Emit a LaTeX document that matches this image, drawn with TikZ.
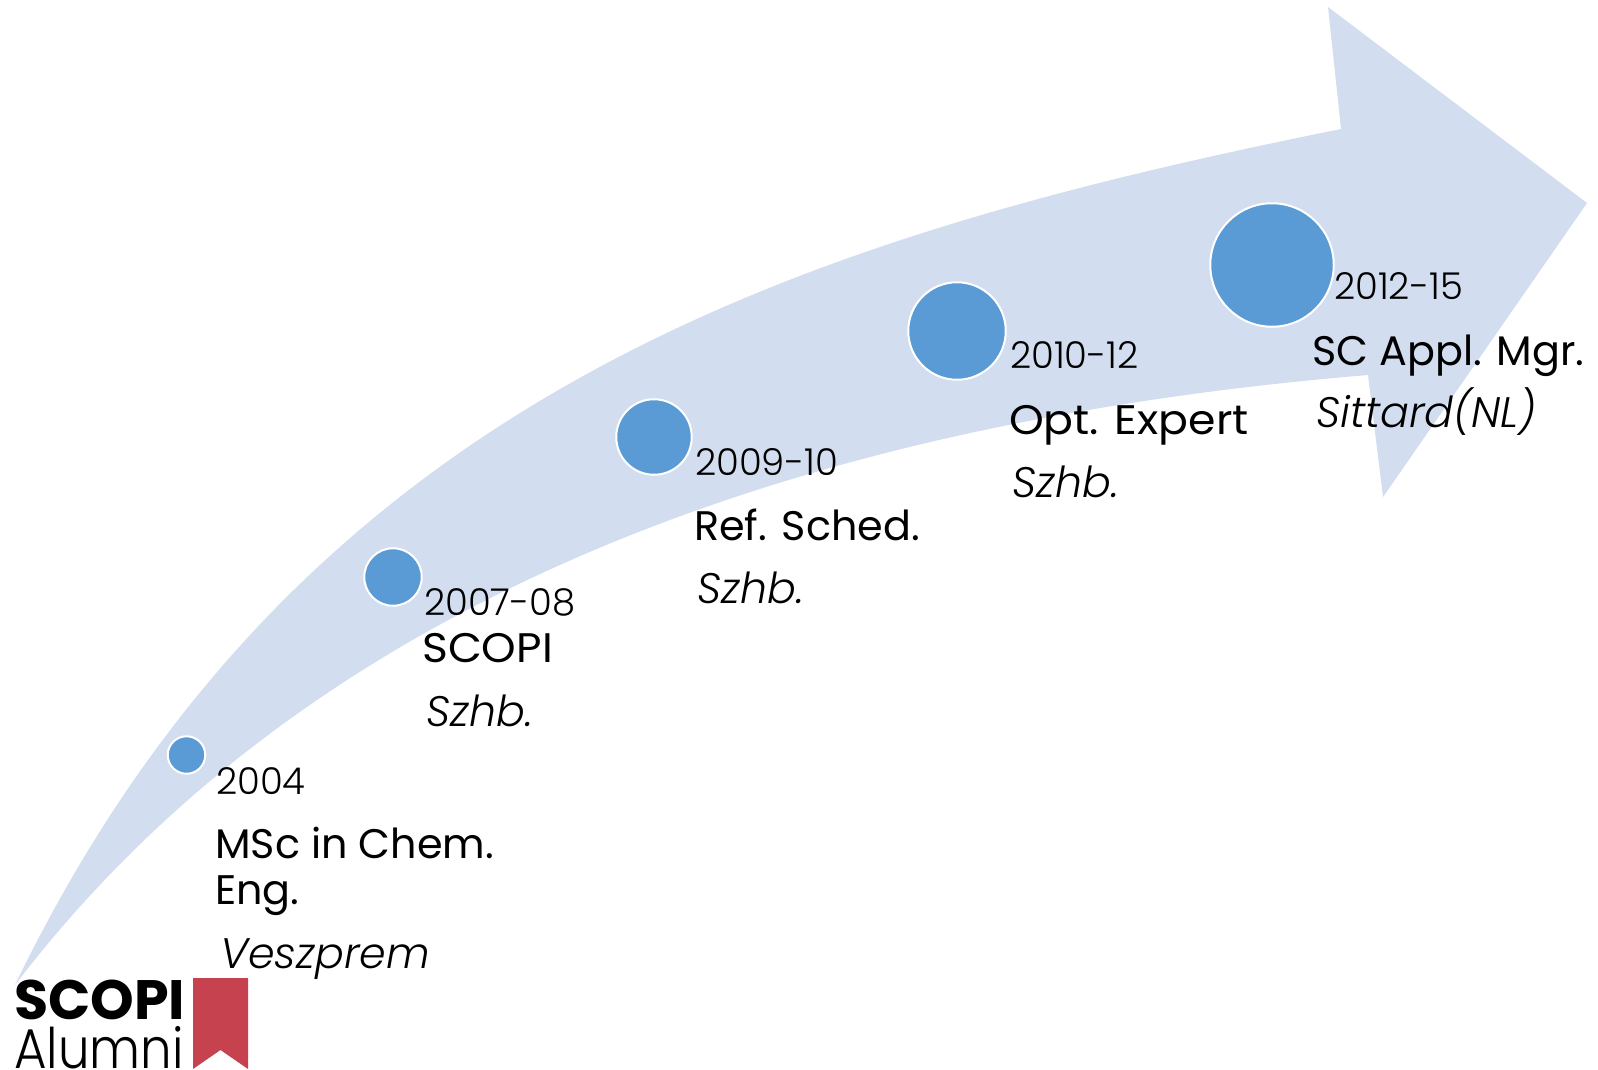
\documentclass[tikz,border=0pt]{standalone}
\usepackage{fontspec}
\setmainfont{Poppins}
\newfontfamily\lightf{Poppins Light}
\newfontfamily\boldf{Poppins Bold}
\definecolor{arrowfill}{HTML}{D2DDEF}
\definecolor{dotfill}{HTML}{5B9BD5}
\definecolor{markred}{HTML}{C7424F}
\tikzset{
  dot/.style={circle,fill=dotfill,draw=white,line width=2pt,inner sep=0pt,minimum size=#1},
  yearlbl/.style={anchor=base west,inner sep=0pt,font=\fontsize{37}{37}\selectfont\lightf},
  rolelbl/.style={anchor=base west,inner sep=0pt,font=\fontsize{41.3}{46}\selectfont,align=left},
  placelbl/.style={anchor=base west,inner sep=0pt,font=\fontsize{42.7}{42}\selectfont\lightf\itshape},
}
\begin{document}
\begin{tikzpicture}[x=1pt,y=-1pt]
\useasboundingbox (0,0) rectangle (1598,1069);
\fill[arrowfill] (15,985) .. controls (300,395) and (800,238) .. (1341,129)
  -- (1328,7) -- (1587,203) -- (1383,497) -- (1368,375)
  .. controls (850,418) and (330,572) .. (15,985) -- cycle;
\node[dot=37.5pt] (d1) at (186.5,755) {};
\node[dot=57.5pt] (d2) at (393,577) {};
\node[dot=75.5pt] (d3) at (654,437) {};
\node[dot=97.5pt] (d4) at (957,331) {};
\node[dot=123.5pt] (d5) at (1272,265) {};
\node[yearlbl] (y1) at (216,794) {2004};
\node[rolelbl,anchor=north west] (r1) at (215,827) {MSc in Chem.\\Eng.};
\node[placelbl] (p1) at (220,968) {Veszprem};
\node[yearlbl] (y2) at (424,615) {2007-08};
\node[rolelbl] (r2) at (422,662) {\scalebox{1.065}[1]{SCOPI}};
\node[placelbl] (p2) at (426,726) {Szhb.};
\node[yearlbl] (y3) at (695,475) {2009-10};
\node[rolelbl] (r3) at (694,540) {Ref. Sched.};
\node[placelbl] (p3) at (697,603) {Szhb.};
\node[yearlbl] (y4) at (1010,368) {2010-12};
\node[rolelbl] (r4) at (1009,434) {\scalebox{1.07}[1]{Opt. Expert}};
\node[placelbl] (p4) at (1012,497) {Szhb.};
\node[yearlbl] (y5) at (1334,299) {2012-15};
\node[rolelbl] (r5) at (1312,365) {SC Appl. Mgr.};
\node[placelbl] (p5) at (1316,427) {Sittard(NL)};
\node[anchor=base west,inner sep=0pt,font=\fontsize{55.5}{55}\selectfont\boldf] (l1) at (14,1019) {SCOPI};
\node[anchor=base west,inner sep=0pt,font=\fontsize{56}{56}\selectfont\lightf] (l2) at (14,1068) {\scalebox{0.89}[1]{Alumni}};
\fill[markred] (193,978) -- (248,978) -- (248,1069) -- (220.5,1050) -- (193,1069) -- cycle;
\end{tikzpicture}
\end{document}
